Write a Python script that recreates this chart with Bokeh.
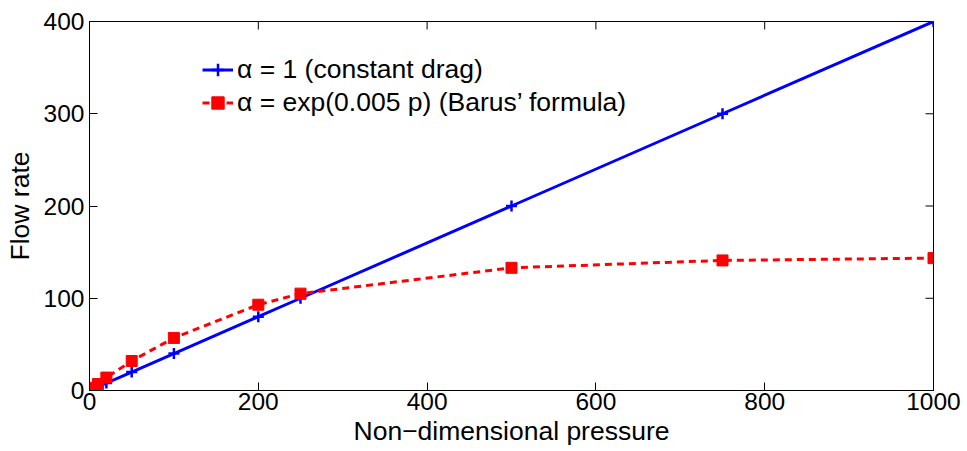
from bokeh.plotting import figure
from bokeh.models import Range1d, FixedTicker, Legend, LegendItem
from bokeh.embed import file_html
from bokeh.resources import INLINE

pressure = [0, 5, 10, 20, 50, 100, 200, 250, 500, 750, 1000]
flow_const = [0, 2, 4, 8, 20, 40, 80, 100, 200, 300, 400]
flow_barus = [0, 3, 7, 14, 32, 57, 93, 105, 133, 141, 143.5]
x_ticks = [0, 200, 400, 600, 800, 1000]
y_ticks = [0, 100, 200, 300, 400]

FONT = "Liberation Sans"
X0, X1, Y0, Y1 = 0, 1000, 0, 400
FRAME_W, FRAME_H = 844, 369
TICK = 8

p = figure(width=967, height=451, output_backend="svg", toolbar_location=None,
           x_range=Range1d(X0, X1), y_range=Range1d(Y0, Y1),
           min_border_left=89, min_border_right=34, min_border_top=21, min_border_bottom=61,
           x_axis_label="Non\u2212dimensional pressure", y_axis_label="Flow rate")
p.grid.visible = False
p.outline_line_color = "black"
p.outline_line_width = 1
p.background_fill_color = "white"
p.border_fill_color = "white"

for ax, ticks in ((p.xaxis[0], x_ticks), (p.yaxis[0], y_ticks)):
    ax.ticker = FixedTicker(ticks=ticks)
    ax.major_tick_in = TICK
    ax.major_tick_out = 0
    ax.minor_tick_line_color = None
    ax.major_label_text_font = FONT
    ax.major_label_text_font_size = "24.5px"
    ax.major_label_text_color = "black"
    ax.axis_label_text_font = FONT
    ax.axis_label_text_font_size = "26.5px"
    ax.axis_label_text_font_style = "normal"
    ax.axis_label_text_color = "black"
    ax.axis_line_color = "black"
    ax.major_tick_line_color = "black"
p.xaxis.major_label_standoff = 2
p.yaxis.major_label_standoff = 5
p.xaxis.axis_label_standoff = 3
p.yaxis.axis_label_standoff = 6

# mirrored ticks on top and right (derived from tick arrays)
dy = TICK * (Y1 - Y0) / FRAME_H
dx = TICK * (X1 - X0) / FRAME_W
p.segment(x0=x_ticks, y0=[Y1] * len(x_ticks), x1=x_ticks, y1=[Y1 - dy] * len(x_ticks),
          line_color="black", line_width=1)
p.segment(x0=[X1] * len(y_ticks), y0=y_ticks, x1=[X1 - dx] * len(y_ticks), y1=y_ticks,
          line_color="black", line_width=1)

l1 = p.line(pressure, flow_const, line_color="#0000ff", line_width=3)
m1 = p.scatter(pressure, flow_const, marker="cross", size=11, line_color="#0000ff", line_width=2.5)
l2 = p.line(pressure, flow_barus, line_color="#ff0000", line_width=3, line_dash="7 5")
m2 = p.scatter(pressure, flow_barus, marker="square", size=11, fill_color="#ff0000", line_color="#ff0000")

legend = Legend(items=[
    LegendItem(label="\u03b1 = 1 (constant drag)", renderers=[l1, m1]),
    LegendItem(label="\u03b1 = exp(0.005 p) (Barus\u2019 formula)", renderers=[l2, m2]),
], location=(113, 271), orientation="vertical")
legend.border_line_alpha = 0
legend.background_fill_alpha = 0
legend.padding = 0
legend.margin = 0
legend.spacing = 0
legend.glyph_width = 31
legend.glyph_height = 33
legend.label_height = 33
legend.label_standoff = 4
legend.label_text_font = FONT
legend.label_text_font_size = "26.5px"
legend.label_text_color = "black"
p.add_layout(legend, "center")

open("out.html", "w").write(file_html(p, INLINE))
